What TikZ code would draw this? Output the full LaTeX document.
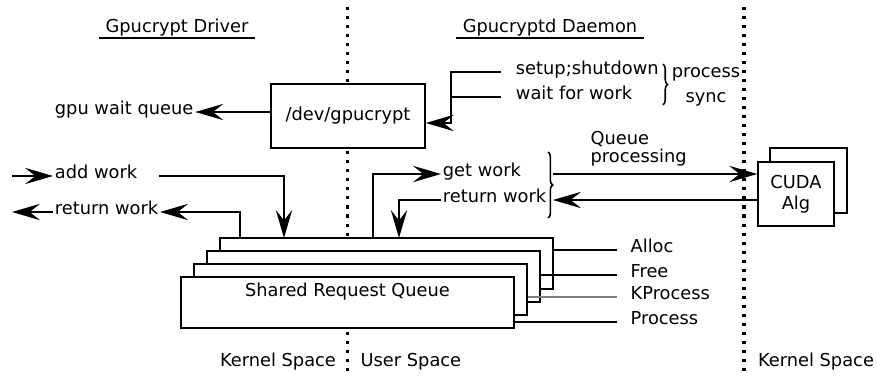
\documentclass[tikz,border=0pt]{standalone}
\usepackage{fontspec}
\setmainfont{DejaVu Sans}
\usetikzlibrary{arrows.meta, decorations.pathreplacing}

\tikzset{
  box/.style={draw, fill=white},
  qbox/.style={box, minimum width=9.99cm, minimum height=1.53cm},
  lbl/.style={inner xsep=1pt, inner ysep=1pt, text height=0.75em, text depth=0.25em},
  title/.style={lbl, inner xsep=5pt},
  oplbl/.style={lbl, anchor=west, inner xsep=11pt},
  brace/.style={decorate, decoration={brace, amplitude=4pt}},
  sep/.style={line width=2.6pt, dash pattern=on 2.6pt off 5.1pt},
  arr/.style={-{Stealth[length=24pt, width=14pt, inset=9pt]}},
}

\begin{document}
\begin{tikzpicture}[x=0.03cm, y=-0.03cm, line width=1.3pt,
    font=\fontsize{15.2}{18}\selectfont]
\useasboundingbox (0,0) rectangle (877,377);

% kernel / user boundaries
\draw[sep] (347.5,7) -- (347.5,377);
\draw[sep] (744,7) -- (744,377);

% headings
\node[title] (driver) at (177,30) {Gpucrypt Driver};
\draw (driver.south west) -- (driver.south east);
\node[title] (daemon) at (550,30) {Gpucryptd Daemon};
\draw (daemon.south west) -- (daemon.south east);

% device node
\node[box, minimum width=4.62cm, minimum height=1.92cm] (dev) at (348,116) {/dev/gpucrypt};
\node[lbl, anchor=west] (gpuq) at (53,112) {gpu wait queue};
\draw[arr] (dev.west |- gpuq.east) -- (gpuq.east);

% process sync
\node[lbl, anchor=west] (setup) at (514,72) {setup;shutdown};
\node[lbl, anchor=west] (waitw) at (514,97) {wait for work};
\draw[brace] ([xshift=2pt]setup.north east) -- ([xshift=2pt]setup.east |- waitw.south);
\node[align=center] (psync) at (706,87) {process\\[3pt]sync};
\coordinate (junc) at (451,123);
\draw[arr] ([xshift=-11pt]setup.west) -| (junc) -- (junc -| dev.east);
\draw ([xshift=-11pt]waitw.west) -- (waitw.west -| junc);

% shared queue, back to front
\node[qbox] (q4) at (386.5,263.5) {};
\node[qbox] (q3) at (373.5,276.5) {};
\node[qbox] (q2) at (360.5,289.5) {};
\node[qbox, text height=14pt, text depth=23.5pt, inner ysep=3pt] (q1) at (347.5,302.5) {Shared Request Queue};

% queue operations
\node[oplbl] (alloc) at (617,250) {Alloc};
\node[oplbl] (free) at (617,275) {Free};
\node[oplbl] (kproc) at (617,297) {KProcess};
\node[oplbl] (proc) at (617,322) {Process};
\draw (q4.east |- alloc.west) -- (alloc.west);
\draw (q3.east |- free.west) -- (free.west);
\draw[gray] (q2.east |- kproc.west) -- (kproc.west);
\draw (q1.east |- proc.west) -- (proc.west);

% kernel side work
\node[lbl, anchor=west] (addw) at (53,176) {add work};
\node[lbl, anchor=west] (retl) at (53,212) {return work};
\coordinate (kin) at (12,176);
\coordinate (kout) at (12,212);
\coordinate (qin) at (284,238);
\coordinate (qout) at (240,238);
\draw[arr] (kin) -- (addw.west);
\draw[arr] (retl.west) -- (kout);
\draw[arr] ([xshift=17pt]addw.east) -| (qin);
\draw[arr] (qout) |- (retl.east);

% user side work
\node[lbl, anchor=west] (getw) at (441,174) {get work};
\node[lbl, anchor=west] (retr) at (441,200) {return work};
\coordinate (uout) at (373,238);
\coordinate (uin) at (399,238);
\draw[arr] (uout) |- (getw.west);
\draw[arr] (retr.west) -| (uin);
\draw[brace] (548,152) -- (548,218);

% CUDA workers
\node[box, minimum width=2.31cm, minimum height=1.95cm] (cudab) at (808.5,180.5) {};
\node[box, minimum width=2.28cm, minimum height=1.92cm, align=center] (cuda) at (796,194) {CUDA\\Alg};
\node[align=left, anchor=west] (qproc) at (586,149) {Queue\\[-3pt]processing};
\coordinate (qpo) at (553,174);
\coordinate (qpi) at (553,200);
\draw[arr] (qpo) -- (qpo -| cuda.west);
\draw[arr] (qpi -| cuda.west) -- (qpi);

% spaces
\node (ksl) at (278,362) {Kernel Space};
\node[anchor=west] (us) at (356,362) {User Space};
\node (ksr) at (816,362) {Kernel Space};
\end{tikzpicture}
\end{document}
